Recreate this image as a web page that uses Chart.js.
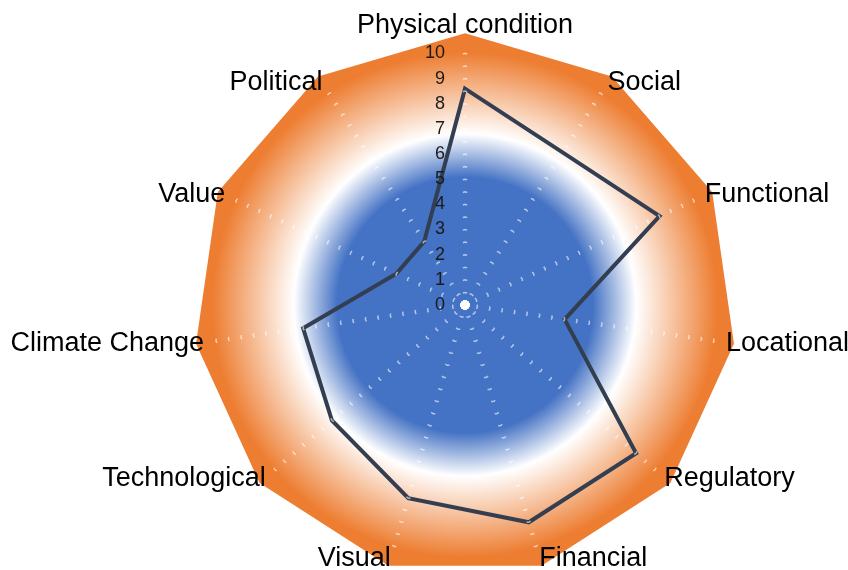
<!DOCTYPE html>
<html>
<head>
<meta charset="utf-8">
<script src="https://cdn.jsdelivr.net/npm/chart.js@4"></script>
<style>
  html, body { margin: 0; padding: 0; background: #fff; overflow: hidden; width: 848px; height: 570px; }
  /* canvas is larger than the window so the radar sits where the Excel one did */
  #wrap { position: absolute; left: -16px; top: -13px; width: 930px; height: 593px; }
</style>
</head>
<body>
<div id="wrap"><canvas id="radarChart"></canvas></div>
<script>
var categories = ['Physical condition', 'Social', 'Functional', 'Locational', 'Regulatory',
    'Financial', 'Visual', 'Technological', 'Climate Change', 'Value', 'Political'];
var scores = [8.6, 7.2, 8.5, 4.0, 9.0, 9.0, 8.0, 7.0, 6.5, 3.0, 3.0];
var outerBand = [10.8, 10.8, 10.8, 10.8, 10.8, 10.8, 10.8, 10.8, 10.8, 10.8, 10.8];
var centre = [0, 0, 0, 0, 0, 0, 0, 0, 0, 0, 0];
var tickLabels = ['0', '1', '2', '3', '4', '5', '6', '7', '8', '9', '10'];

var BLUE = '#4472C4';
var ORANGE = '#ED7D31';

function bandFill(context) {
    var chart = context.chart;
    var r = chart.scales.r;
    if (!r || !r.drawingArea) return ORANGE;
    var outer = r.getDistanceFromCenterForValue(10.8);
    var g = chart.ctx.createRadialGradient(r.xCenter, r.yCenter, 0, r.xCenter, r.yCenter, outer);
    g.addColorStop(0, BLUE);
    g.addColorStop(0.47, BLUE);
    g.addColorStop(0.63, '#ffffff');
    g.addColorStop(0.93, ORANGE);
    g.addColorStop(1, ORANGE);
    return g;
}

// short white marks where each ring crosses a spoke (Excel style tick marks)
function markDash(ctx) {
    var rad = ctx.scale.getDistanceFromCenterForValue(ctx.tick.value);
    var edge = 2 * rad * Math.sin(Math.PI / categories.length);
    var mark = 4.5;
    return [mark, Math.max(edge - mark, 0.1)];
}

var tickLabelPlugin = {
    id: 'tickLabelPlugin',
    afterDraw: function (chart) {
        var r = chart.scales.r;
        var ctx = chart.ctx;
        ctx.save();
        ctx.font = '18px "Liberation Sans", Arial, sans-serif';
        ctx.fillStyle = '#1a1a1a';
        ctx.textAlign = 'right';
        ctx.textBaseline = 'middle';
        tickLabels.forEach(function (label) {
            var y = r.yCenter - r.getDistanceFromCenterForValue(Number(label));
            ctx.fillText(label, r.xCenter - 20, y);
        });
        ctx.restore();
    }
};

var chart = new Chart(document.getElementById('radarChart'), {
    type: 'radar',
    data: {
        labels: categories,
        datasets: [{
            data: centre,
            showLine: false,
            pointRadius: 4.5,
            pointBackgroundColor: '#ffffff',
            pointBorderWidth: 0
        }, {
            data: scores,
            borderColor: '#333F50',
            borderWidth: 4,
            fill: false,
            pointRadius: 0,
            borderJoinStyle: 'miter'
        }, {
            data: outerBand,
            borderWidth: 0,
            borderColor: ORANGE,
            backgroundColor: bandFill,
            fill: true,
            pointRadius: 0
        }]
    },
    options: {
        responsive: true,
        maintainAspectRatio: false,
        animation: false,
        plugins: { legend: { display: false }, tooltip: { enabled: false } },
        scales: {
            r: {
                min: 0,
                max: 10,
                ticks: { display: false, stepSize: 0.5 },
                angleLines: { display: false },
                grid: {
                    z: 1,
                    color: 'rgba(255, 255, 255, 0.6)',
                    lineWidth: 1.5
                },
                border: {
                    dash: markDash,
                    dashOffset: 2.25
                },
                pointLabels: {
                    padding: 12,
                    color: '#000000',
                    font: function (ctx) {
                        // Excel centres the side labels on the spoke end, only the top one sits above it
                        return {
                            family: '"Liberation Sans", Arial, sans-serif',
                            size: 27,
                            lineHeight: ctx.index === 0 ? 1.2 : 0.05
                        };
                    }
                }
            }
        }
    },
    plugins: [tickLabelPlugin]
});
</script>
</body>
</html>
